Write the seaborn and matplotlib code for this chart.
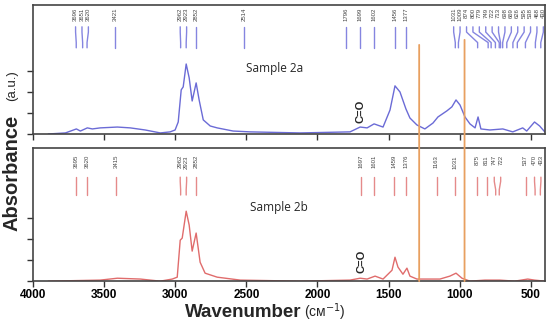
import numpy as np
import seaborn as sns
import matplotlib.pyplot as plt
from matplotlib.patches import ConnectionPatch

# spectrum of sample 2a (wavenumber, absorbance)
wn_2a = [3892, 3772, 3695, 3667, 3618, 3583, 3527, 3407, 3316, 3211, 3105, 3036, 3001,
         2979, 2958, 2944, 2923, 2902, 2881, 2853, 2832, 2803, 2754, 2705, 2593, 2473,
         2122, 1771, 1700, 1651, 1602, 1539, 1490, 1455, 1420, 1378, 1350, 1301, 1245,
         1188, 1153, 1090, 1055, 1026, 998, 963, 928, 892, 871, 851, 788, 697, 627, 557,
         529, 474, 438, 402]
abs_2a = [0.0, 0.05, 0.24, 0.14, 0.29, 0.24, 0.29, 0.33, 0.29, 0.19, 0.05, 0.1, 0.19,
          0.57, 2.1, 2.24, 3.33, 2.67, 1.57, 2.43, 1.62, 0.67, 0.38, 0.29, 0.14, 0.1,
          0.05, 0.1, 0.33, 0.29, 0.48, 0.33, 1.14, 2.29, 2.0, 1.19, 0.76, 0.43, 0.24,
          0.52, 0.81, 1.1, 1.29, 1.62, 1.38, 0.81, 0.48, 0.29, 0.81, 0.24, 0.19, 0.24,
          0.1, 0.29, 0.14, 0.57, 0.38, 0.1]

# spectrum of sample 2b
wn_2b = [3892, 3527, 3407, 3245, 3105, 3021, 2986, 2965, 2951, 2923, 2902, 2881, 2853,
         2825, 2790, 2705, 2543, 2122, 1771, 1700, 1651, 1595, 1539, 1476, 1455, 1434,
         1399, 1371, 1350, 1301, 1139, 1069, 1026, 984, 928, 823, 718, 613, 522, 474, 402]
abs_2b = [0.0, 0.05, 0.14, 0.1, 0.0, 0.1, 0.19, 1.95, 2.05, 3.33, 2.67, 1.43, 2.29,
          0.9, 0.38, 0.19, 0.05, 0.0, 0.05, 0.14, 0.1, 0.24, 0.1, 0.52, 1.14, 0.67,
          0.33, 0.62, 0.24, 0.1, 0.1, 0.24, 0.38, 0.14, 0.0, 0.05, 0.05, 0.0, 0.1, 0.05, 0.0]

peaks_2a = [3696, 3651, 3620, 3421, 2962, 2923, 2852, 2514, 1796, 1699, 1602, 1456, 1377,
            1031, 1009, 874, 800, 779, 749, 722, 713, 698, 669, 626, 595, 538, 468, 430]
peaks_2b = [3695, 3620, 3415, 2962, 2923, 2852, 1697, 1601, 1459, 1376, 1163, 1031,
            875, 811, 747, 722, 537, 470, 433]

region_edges = [1285, 966]
xticks = [4000, 3500, 3000, 2500, 2000, 1500, 1000, 500]

sns.set_theme(style="ticks")
plt.rcParams["font.family"] = ["Liberation Sans", "DejaVu Sans"]


def spread(peaks, gap, lo, hi):
    # move peak labels apart so they do not overlap
    pos = np.array(peaks, float)
    for _ in range(800):
        for i in range(len(pos) - 1):
            d = pos[i] - pos[i + 1]
            if d < gap:
                push = (gap - d) / 2
                pos[i] += push
                pos[i + 1] -= push
        pos = np.clip(pos, lo, hi)
    return pos


def mark_peaks(ax, peaks, color, y_lab, y_top, y_bend1, y_bend2, y_bot):
    lab = spread(peaks, 45, 412, 3950)
    for p, lx in zip(peaks, lab):
        ax.plot([lx, lx, p, p], [y_top, y_bend1, y_bend2, y_bot], color=color, lw=1.0)
        ax.text(lx, y_lab, str(p), rotation=90, ha="center", va="top",
                fontsize=4.3, color="#444444")


fig = plt.figure(figsize=(5.5, 3.3), dpi=100)
ax1 = fig.add_axes([0.06, 0.594, 0.931, 0.391])
ax2 = fig.add_axes([0.06, 0.148, 0.931, 0.403])

sns.lineplot(x=wn_2a, y=abs_2a, ax=ax1, color="#6b6bd6", lw=1.0, estimator=None, sort=False)
sns.lineplot(x=wn_2b, y=abs_2b, ax=ax2, color="#e06c6c", lw=1.0, estimator=None, sort=False)

mark_peaks(ax1, peaks_2a, "#8585e0", 6.0, 5.1, 4.85, 4.35, 4.1)
mark_peaks(ax2, peaks_2b, "#e58a8a", 6.0, 4.95, 4.75, 4.35, 4.1)

ax1.text(2298, 3.1, "Sample 2a", fontsize=8.5, family="Open Sans", ha="center", va="center")
ax2.text(2270, 3.5, "Sample 2b", fontsize=8.5, family="Open Sans", ha="center", va="center")
ax1.text(1701, 1.1, "C=O", rotation=90, fontsize=8, fontweight="bold", ha="center", va="center")
ax2.text(1687, 0.95, "C=O", rotation=90, fontsize=8, fontweight="bold", ha="center", va="center")

for ax, top in [(ax1, 6.14), (ax2, 6.33)]:
    ax.set_xlim(4000, 400)
    ax.set_ylim(0, top)
    ax.set_xticks(xticks)
    ax.set_yticks([0, 1, 2, 3])
    ax.set_xlabel("")
    ax.set_ylabel("")
    ax.tick_params(direction="out", length=4, width=1, colors="#333333", labelleft=False)
    for s in ax.spines.values():
        s.set_color("#444444")
        s.set_linewidth(1.2)

ax1.tick_params(labelbottom=False)
ax2.tick_params(axis="x", labelsize=8.5, labelcolor="black", pad=2)
plt.setp(ax2.get_xticklabels(), fontweight="bold")

for w, y0 in zip(region_edges, [4.24, 4.48]):
    con = ConnectionPatch(xyA=(w, y0), coordsA=ax1.transData, xyB=(w, 0),
                          coordsB=ax2.transData, color="#e8a060", lw=1.3)
    fig.add_artist(con)

fig.text(0.549, 0.052, "Wavenumber", ha="right", va="center", fontsize=13.5, fontweight="bold")
fig.text(0.553, 0.055, "(см$^{-1}$)", ha="left", va="center", fontsize=10)
fig.text(0.022, 0.476, "Absorbance", rotation=90, ha="center", va="center",
         fontsize=14.5, fontweight="bold")
fig.text(0.022, 0.742, "(a.u.)", rotation=90, ha="center", va="center", fontsize=9.5)

fig.savefig("out.png", dpi=100)
